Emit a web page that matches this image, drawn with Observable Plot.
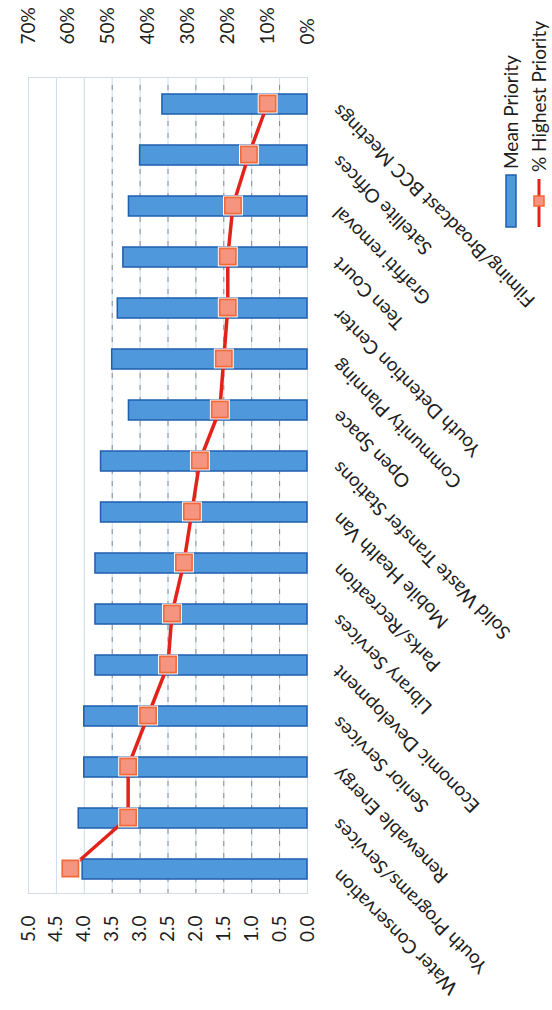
<!DOCTYPE html>
<html>
<head>
<meta charset="utf-8">
<script src="https://cdn.jsdelivr.net/npm/d3@7"></script>
<script src="https://cdn.jsdelivr.net/npm/@observablehq/plot@0.6"></script>
<style>
  html, body { margin: 0; padding: 0; background: #fff; overflow: hidden; }
  #page { position: relative; width: 552px; height: 1010px; overflow: hidden; background: #fff; }
  /* the chart is laid out landscape and turned a quarter turn counter-clockwise */
  #chart { position: absolute; left: 0; top: 0; width: 1010px; height: 552px;
           transform-origin: 0 0; transform: translate(0, 1010px) rotate(-90deg); }
  #chart svg { display: block; }
</style>
</head>
<body>
<div id="page"><div id="chart"></div></div>
<script>
// Services, in the order they appear along the category axis
const services = [
  "Water Conservation",
  "Youth Programs/Services",
  "Renewable Energy",
  "Senior Services",
  "Economic Development",
  "Library Services",
  "Parks/Recreation",
  "Mobile Health Van",
  "Solid Waste Transfer Stations",
  "Open Space",
  "Community Planning",
  "Youth Detention Center",
  "Teen Court",
  "Graffiti removal",
  "Satellite Offices",
  "Filming/Broadcast BCC Meetings"
];

// Mean Priority (left axis, 0–5)
const meanPriority = [4.03, 4.1, 4.0, 4.0, 3.8, 3.8, 3.8, 3.7, 3.7, 3.2, 3.5, 3.4, 3.3, 3.2, 3.0, 2.6];

// % Highest Priority (right axis, 0–70%)
const pctHighest = [59.5, 45, 45, 40, 35, 34, 31, 29, 27, 22, 21, 20, 20, 18.7, 14.7, 10];

// Axis ticks
const meanTicks = [0, 0.5, 1, 1.5, 2, 2.5, 3, 3.5, 4, 4.5, 5];
const pctTicks = [0, 10, 20, 30, 40, 50, 60, 70];

const MEAN_MAX = 5, PCT_MAX = 70;
const pctToMean = (p) => p * MEAN_MAX / PCT_MAX;

const rows = services.map((s, i) => ({service: s, mean: meanPriority[i], pct: pctHighest[i]}));

const W = 1010, H = 552;
const font = "Lato, 'Open Sans', sans-serif";
const ink = "#1e1e1e";

const chart = Plot.plot({
  width: W,
  height: H,
  marginLeft: 116,
  marginRight: 78,
  marginTop: 28,
  marginBottom: 245,
  style: {fontFamily: font, fontSize: "19px", color: ink, background: "white"},
  x: {domain: services, paddingInner: 0.6, paddingOuter: 0.3, axis: null},
  y: {domain: [0, MEAN_MAX]},
  marks: [
    // gridlines
    Plot.ruleY(meanTicks, {stroke: "#cddbeb", strokeWidth: 1}),
    Plot.ruleY(meanTicks.filter((v) => v > 0 && v < 4), {stroke: "#333", strokeOpacity: 0.5, strokeDasharray: "5 7"}),
    Plot.frame({stroke: "#d2dbe6", strokeWidth: 1}),

    // Mean Priority bars
    Plot.barY(rows, {x: "service", y: "mean", fill: "#4f98dc", stroke: "#1f5fae", strokeWidth: 1.5}),

    // % Highest Priority line with square markers
    Plot.line(rows, {x: "service", y: (d) => pctToMean(d.pct), stroke: "#e2231a", strokeWidth: 3.5}),
    Plot.dot(rows, {x: "service", y: (d) => pctToMean(d.pct), symbol: "square", r: 11.2, fill: "white"}),
    Plot.dot(rows, {x: "service", y: (d) => pctToMean(d.pct), symbol: "square", r: 9.2,
                    fill: "#f5957f", stroke: "#f06a3a", strokeWidth: 1.6}),

    // left axis: Mean Priority
    Plot.axisY({anchor: "left", ticks: meanTicks, tickFormat: d3.format(".1f"), label: null,
                tickSize: 0, tickPadding: 22, fontSize: 19, fill: ink}),
    // right axis: % Highest Priority
    Plot.axisY({anchor: "right", ticks: pctTicks.map(pctToMean), label: null,
                tickFormat: (v) => Math.round(v * PCT_MAX / MEAN_MAX) + "%",
                tickSize: 0, tickPadding: 33, fontSize: 19, fill: ink}),

    // category labels
    Plot.text(services, {x: (d) => d, frameAnchor: "bottom", rotate: -45, textAnchor: "end",
                         dy: 33, fontSize: 19, fill: ink})
  ]
});

// legend
const legend = {swatchX: 783, swatchLen: 52, textX: 841, meanY: 511, pctY: 539};
const svg = d3.select(chart);
const lg = svg.append("g")
  .attr("font-family", font).attr("font-size", 19)
  .attr("fill", ink).attr("text-anchor", "start");
lg.append("rect")
  .attr("x", legend.swatchX).attr("y", legend.meanY - 5)
  .attr("width", legend.swatchLen).attr("height", 10)
  .attr("fill", "#4f98dc").attr("stroke", "#1f5fae").attr("stroke-width", 1.5);
lg.append("text").attr("x", legend.textX).attr("y", legend.meanY).attr("dy", "0.35em").text("Mean Priority");
lg.append("line")
  .attr("x1", legend.swatchX).attr("x2", legend.swatchX + legend.swatchLen - 4)
  .attr("y1", legend.pctY).attr("y2", legend.pctY)
  .attr("stroke", "#e2231a").attr("stroke-width", 3);
lg.append("rect")
  .attr("x", legend.swatchX + 21).attr("y", legend.pctY - 5)
  .attr("width", 10).attr("height", 10)
  .attr("fill", "#f5957f").attr("stroke", "#f06a3a").attr("stroke-width", 1.5);
lg.append("text").attr("x", legend.textX - 3).attr("y", legend.pctY).attr("dy", "0.35em").text("% Highest Priority");

document.getElementById("chart").appendChild(chart);
</script>
</body>
</html>
